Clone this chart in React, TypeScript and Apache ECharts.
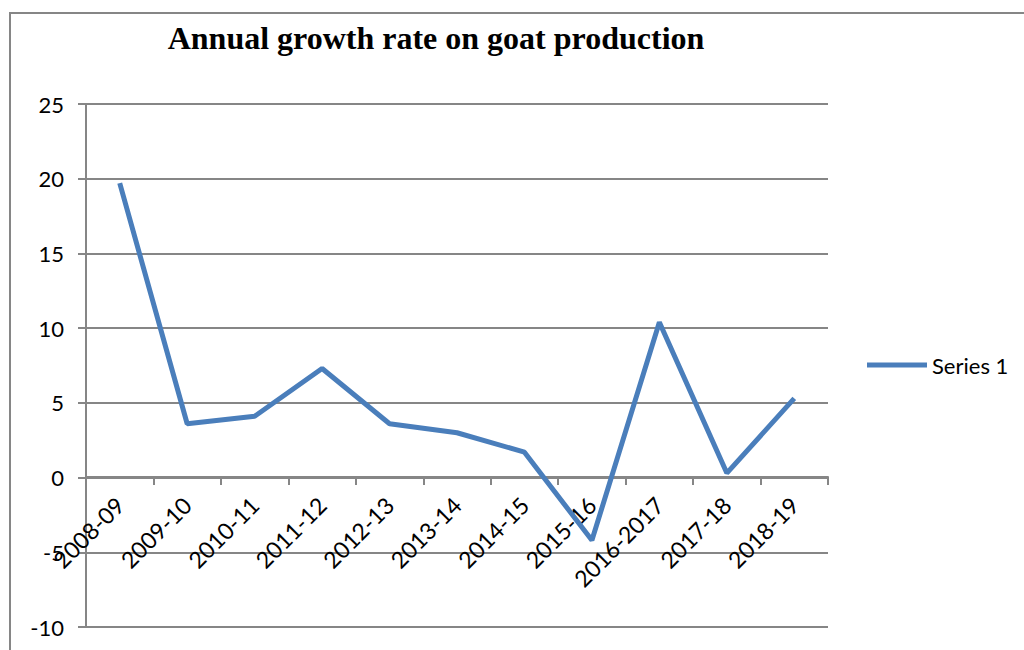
import React, { useEffect, useRef } from "react";
import * as echarts from "echarts";

const categories = [
  "2008-09", "2009-10", "2010-11", "2011-12", "2012-13", "2013-14",
  "2014-15", "2015-16", "2016-2017", "2017-18", "2018-19",
];
const seriesValues = [19.7, 3.6, 4.1, 7.3, 3.6, 3.0, 1.7, -4.2, 10.4, 0.3, 5.3];
const seriesName = "Series 1";
const titleText = "Annual growth rate on goat production";

export default function App() {
  const ref = useRef<HTMLDivElement>(null);
  useEffect(() => {
    if (!ref.current) return;
    const chart = echarts.init(ref.current, null, { renderer: "svg" });
    const gridColor = "#868686";
    chart.setOption({
      animation: false,
      backgroundColor: "#ffffff",
      title: {
        text: titleText,
        left: 431,
        top: 17,
        textAlign: "center",
        textStyle: {
          fontFamily: "Liberation Serif",
          fontWeight: "bold",
          fontSize: 32,
          color: "#000",
        },
      },
      graphic: [
        {
          type: "polyline",
          shape: { points: [[10, 650], [10, 13], [1024, 13]] },
          style: { stroke: gridColor, lineWidth: 2, fill: "none" },
        },
      ],
      legend: {
        left: 862,
        top: 349,
        itemWidth: 60,
        itemHeight: 14,
        data: [{ name: seriesName, icon: "path://M0,0 L60,0 L60,5 L0,5 Z" }],
        textStyle: { fontFamily: "Lato", fontSize: 22, color: "#000" },
      },
      grid: {
        left: 86,
        right: 196,
        top: 104,
        bottom: 23,
        containLabel: false,
        outerBoundsMode: "none",
      },
      xAxis: {
        type: "category",
        data: categories,
        boundaryGap: true,
        position: "bottom",
        offset: -150,
        axisLine: { onZero: false, lineStyle: { color: gridColor, width: 2 } },
        axisTick: { show: true, length: 8, alignWithLabel: false, lineStyle: { color: gridColor, width: 2 } },
        axisLabel: {
          interval: 0,
          rotate: 45,
          margin: 24,
          fontFamily: "Lato",
          fontSize: 23,
          color: "#000",
          hideOverlap: false,
        },
        splitLine: { show: false },
      },
      yAxis: {
        type: "value",
        min: -10,
        max: 25,
        interval: 5,
        axisLine: { show: true, lineStyle: { color: gridColor, width: 2 } },
        axisTick: { show: true, length: 8, lineStyle: { color: gridColor, width: 2 } },
        axisLabel: { margin: 22, fontFamily: "Lato", fontSize: 22, color: "#000" },
        splitLine: { show: true, lineStyle: { color: gridColor, width: 2 } },
      },
      series: [
        {
          name: seriesName,
          type: "line",
          data: seriesValues,
          symbol: "none",
          lineStyle: { width: 5, color: "#4A7EBB" },
          itemStyle: { color: "#4A7EBB" },
        },
      ],
    });
    return () => chart.dispose();
  }, []);
  return (
    <div
      ref={ref}
      style={{ position: "absolute", left: 0, top: 0, width: 1024, height: 650 }}
    />
  );
}
